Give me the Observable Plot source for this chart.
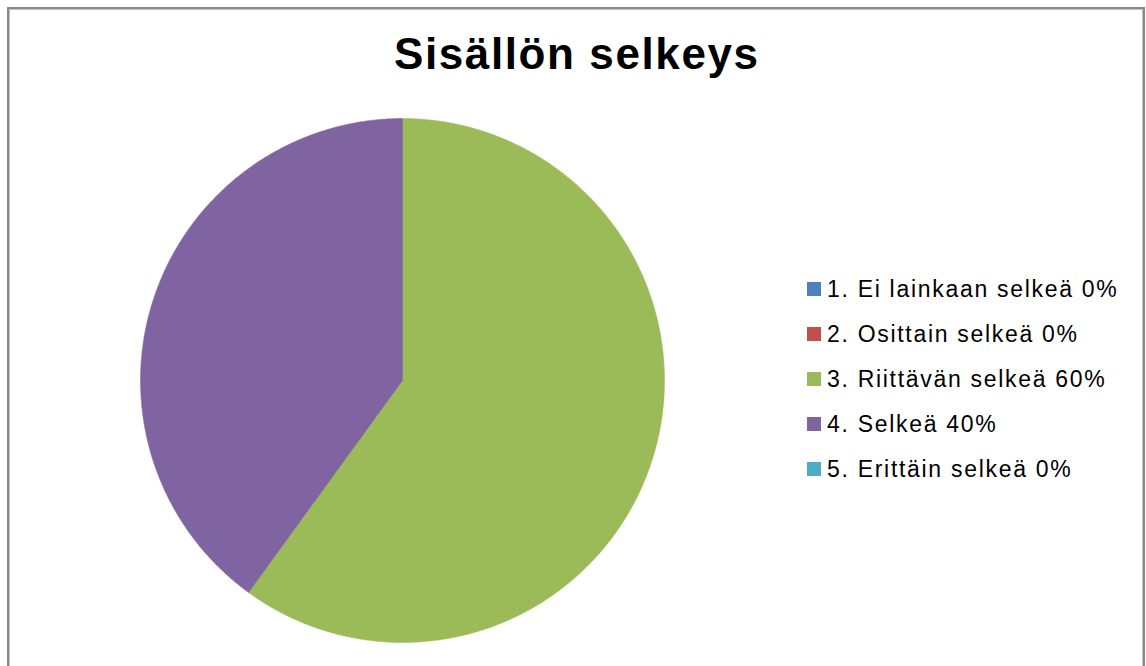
<!DOCTYPE html>
<html>
<head>
<meta charset="utf-8">
<script src="https://cdn.jsdelivr.net/npm/d3@7"></script>
<script src="https://cdn.jsdelivr.net/npm/@observablehq/plot@0.6"></script>
<style>
  html, body { margin: 0; padding: 0; background: #fff; overflow: hidden; }
  #stage { position: relative; width: 1146px; height: 666px; overflow: hidden;
           font-family: "Liberation Sans", Arial, sans-serif; color: #000; }
  #frame { position: absolute; left: 7px; top: 7px; width: 1134px; height: 720px;
           border: 2px solid #888; box-shadow: inset 0 0 0 1px #c4c4c4; box-sizing: content-box; }
  #title { position: absolute; left: 394px; top: 32.1px; font-size: 44px; line-height: 44px;
           font-weight: bold; letter-spacing: 1.6px; white-space: nowrap; }
  #pie { position: absolute; left: 139.5px; top: 117.5px; }
  .row { position: absolute; left: 827px; font-size: 23px; line-height: 23px; height: 23px;
         letter-spacing: 1.7px; white-space: nowrap; }
  .sw { position: absolute; left: -20px; top: 3.8px; width: 14px; height: 14px; }
</style>
</head>
<body>
<div id="stage">
  <div id="frame"></div>
  <div id="title"></div>
  <div id="pie"></div>
  <div id="legend"></div>
</div>
<script>
const title = "Sisällön selkeys";
const categories = ["1. Ei lainkaan selkeä", "2. Osittain selkeä", "3. Riittävän selkeä", "4. Selkeä", "5. Erittäin selkeä"];
const percents = [0, 0, 60, 40, 0];
const colors = ["#4F81BD", "#C0504D", "#9BBB59", "#8064A2", "#4BACC6"];

document.getElementById("title").textContent = title;

// Build slice polygons (Excel: start at 12 o'clock, clockwise)
const total = d3.sum(percents);
const pts = [];
let acc = 0;
categories.forEach((c, i) => {
  const v = percents[i];
  if (v <= 0) { return; }
  const a0 = acc / total * 2 * Math.PI;
  const a1 = (acc + v) / total * 2 * Math.PI;
  acc += v;
  const steps = Math.max(2, Math.ceil((a1 - a0) / (Math.PI / 360)));
  pts.push({cat: c, x: 0, y: 0});
  for (let k = 0; k <= steps; k++) {
    const a = a0 + (a1 - a0) * k / steps;
    pts.push({cat: c, x: Math.sin(a), y: Math.cos(a)});
  }
  pts.push({cat: c, x: 0, y: 0});
});

const size = 524;
const chart = Plot.plot({
  width: size,
  height: size,
  margin: 0,
  x: {domain: [-1, 1], axis: null},
  y: {domain: [-1, 1], axis: null},
  color: {domain: categories, range: colors, type: "ordinal"},
  style: {background: "transparent", overflow: "visible"},
  marks: [
    Plot.line(pts, {x: "x", y: "y", z: "cat", fill: "cat", stroke: "cat", strokeWidth: 0.5, curve: "linear"})
  ]
});
document.getElementById("pie").appendChild(chart);

// Legend
const legend = document.getElementById("legend");
categories.forEach((c, i) => {
  const row = document.createElement("div");
  row.className = "row";
  row.style.top = (278.2 + i * 45) + "px";
  const sw = document.createElement("div");
  sw.className = "sw";
  sw.style.background = chart.scale("color").apply(c);
  row.appendChild(sw);
  row.appendChild(document.createTextNode(c + " " + percents[i] + "%"));
  legend.appendChild(row);
});
</script>
</body>
</html>
